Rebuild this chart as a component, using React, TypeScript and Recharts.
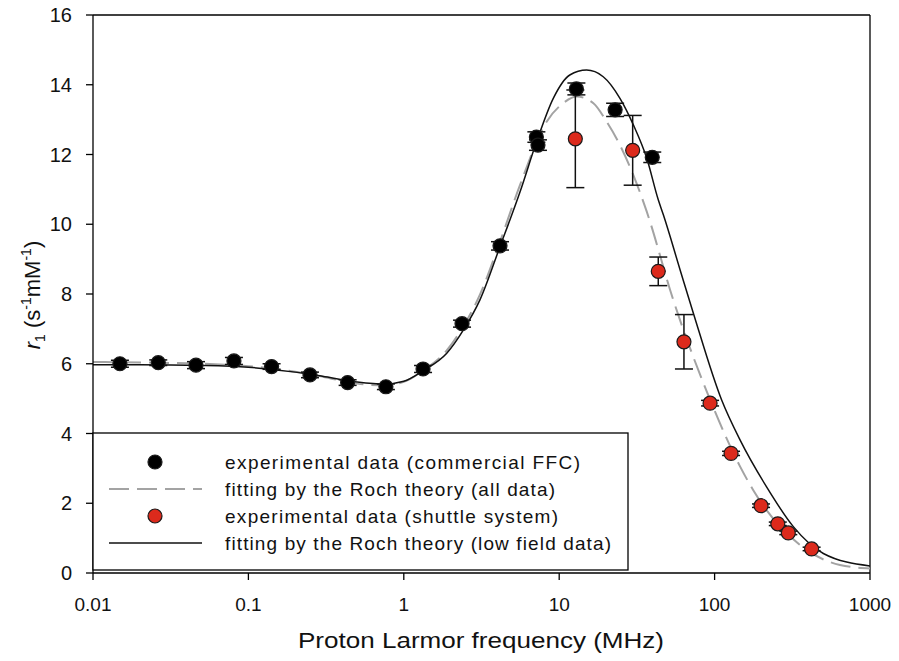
import React from "react";
import {
  ComposedChart,
  Line,
  Scatter,
  XAxis,
  YAxis,
  ErrorBar,
  ReferenceLine,
} from "recharts";

// commercial FFC relaxometer points
const ffcFreq = [0.0149, 0.0263, 0.046, 0.0807, 0.141, 0.249, 0.435, 0.767, 1.33, 2.37, 4.16, 7.13, 7.3, 12.9, 22.9, 39.7];
const ffcR1 = [6.0, 6.03, 5.96, 6.08, 5.92, 5.68, 5.46, 5.34, 5.85, 7.15, 9.38, 12.5, 12.27, 13.88, 13.28, 11.92];
const ffcErr = [0.1, 0.08, 0.1, 0.1, 0.08, 0.08, 0.08, 0.08, 0.1, 0.1, 0.12, 0.15, 0.15, 0.17, 0.19, 0.15];

// shuttle system points
const shuttleFreq = [12.7, 29.7, 43.4, 63.5, 93.5, 127.6, 199, 255, 298, 421];
const shuttleR1 = [12.45, 12.12, 8.65, 6.63, 4.87, 3.43, 1.93, 1.41, 1.15, 0.69];
const shuttleErr = [1.4, 1.0, 0.41, 0.78, 0.08, 0.06, 0.05, 0.05, 0.05, 0.05];

// Roch fit, all data (dashed)
const allFitFreq = [0.01, 0.05, 0.1, 0.2, 0.3, 0.5, 0.75, 1.0, 1.33, 1.89, 2.42, 3.09, 4.16, 5.6, 8.3, 10.6, 13.0, 16.6, 20.2, 24.6, 30, 36.6, 54.2, 91, 146, 177, 355, 641, 1000];
const allFitR1 = [6.05, 6.0, 5.93, 5.77, 5.63, 5.43, 5.38, 5.48, 5.8, 6.38, 7.08, 7.98, 9.5, 11.13, 12.94, 13.47, 13.66, 13.47, 12.94, 12.27, 11.41, 10.36, 7.83, 5.1, 3.05, 2.38, 0.8, 0.23, 0.13];

// Roch fit, low field data (solid)
const lowFitFreq = [0.01, 0.02, 0.05, 0.1, 0.2, 0.3, 0.5, 0.75, 1.0, 1.33, 1.89, 2.42, 3.09, 4.16, 5.6, 7.16, 9.16, 11.7, 15, 19.2, 24.6, 30, 36.6, 43.4, 46.8, 60, 73, 111, 146, 216, 321, 501, 1000];
const lowFitR1 = [5.97, 5.97, 5.95, 5.9, 5.76, 5.64, 5.48, 5.42, 5.5, 5.8, 6.3, 6.97, 7.83, 9.36, 10.93, 12.37, 13.61, 14.28, 14.42, 14.23, 13.61, 12.85, 11.89, 10.7, 10.27, 8.69, 7.45, 4.96, 3.81, 2.47, 1.33, 0.56, 0.2];

const xTicks = [0.01, 0.1, 1, 10, 100, 1000];
const yTicks = [0, 2, 4, 6, 8, 10, 12, 14, 16];

const legendItems = [
  "experimental data (commercial FFC)",
  "fitting by the Roch theory (all data)",
  "experimental data (shuttle system)",
  "fitting by the Roch theory (low field data)",
];

const ffc = ffcFreq.map((x, i) => ({ x, y: ffcR1[i], err: ffcErr[i] }));
const shuttle = shuttleFreq.map((x, i) => ({ x, y: shuttleR1[i], err: shuttleErr[i] }));
const allFit = allFitFreq.map((x, i) => ({ x, y: allFitR1[i] }));
const lowFit = lowFitFreq.map((x, i) => ({ x, y: lowFitR1[i] }));

const FONT = '"Liberation Sans", Arial, sans-serif';
const RED = "#dc2a1c";
const GREY = "#a3a3a3";
const DASH = "20 8";

const dot = (fill: string) => (p: any) =>
  <circle cx={p.cx} cy={p.cy} r={7} fill={fill} stroke="#1a1a1a" strokeWidth={1.2} />;

const legendWidths = [355, 330, 333, 386];

export default function App() {
  return (
    <div style={{ position: "absolute", left: 0, top: 0, width: 899, height: 661, background: "#fff", fontFamily: FONT }}>
      <ComposedChart width={899} height={661} margin={{ top: 15, right: 29, left: 0, bottom: 0 }}>
        <XAxis
          dataKey="x"
          type="number"
          scale="log"
          domain={[0.01, 1000]}
          allowDataOverflow
          ticks={xTicks}
          tickFormatter={(v) => String(v)}
          height={88}
          tickSize={7}
          tickMargin={18}
          stroke="#000"
          strokeWidth={1.3}
          tick={{ fill: "#111", fontSize: 19, fontFamily: FONT }}
          label={{
            content: () => (
              <text x={481} y={648} textAnchor="middle" fontSize={22} fill="#111" fontFamily={FONT} textLength={366} lengthAdjust="spacingAndGlyphs">
                Proton Larmor frequency (MHz)
              </text>
            ),
          }}
        />
        <YAxis
          dataKey="y"
          type="number"
          domain={[0, 16]}
          ticks={yTicks}
          width={93}
          tickSize={7}
          tickMargin={14}
          stroke="#000"
          strokeWidth={1.3}
          tick={{ fill: "#111", fontSize: 20, fontFamily: FONT }}
          label={{
            content: () => (
              <text transform="translate(40,295) rotate(-90)" textAnchor="middle" fontSize={22} fill="#111" fontFamily={FONT}>
                <tspan fontStyle="italic">r</tspan>
                <tspan fontSize={14} dy={5}>1</tspan>
                <tspan dy={-5}> (s</tspan>
                <tspan fontSize={14} dy={-9}>-1</tspan>
                <tspan dy={9}>mM</tspan>
                <tspan fontSize={14} dy={-9}>-1</tspan>
                <tspan dy={9}>)</tspan>
              </text>
            ),
          }}
        />
        <ReferenceLine y={16} stroke="#000" strokeWidth={1.3} />
        <ReferenceLine x={1000} stroke="#000" strokeWidth={1.3} />
        <Line data={allFit} dataKey="y" type="monotone" stroke={GREY} strokeWidth={2} strokeDasharray={DASH} dot={false} isAnimationActive={false} />
        <Line data={lowFit} dataKey="y" type="monotone" stroke="#111" strokeWidth={1.5} dot={false} isAnimationActive={false} />
        <Scatter data={ffc} dataKey="y" shape={dot("#000")} isAnimationActive={false}>
          <ErrorBar dataKey="err" direction="y" width={9} stroke="#111" strokeWidth={1.5} />
        </Scatter>
        <Scatter data={shuttle} dataKey="y" shape={dot(RED)} isAnimationActive={false}>
          <ErrorBar dataKey="err" direction="y" width={9} stroke="#111" strokeWidth={1.5} />
        </Scatter>
      </ComposedChart>
      <svg width={899} height={661} style={{ position: "absolute", left: 0, top: 0, pointerEvents: "none" }}>
        <rect x={93} y={433} width={535} height={137} fill="#fff" stroke="#000" strokeWidth={1.3} />
        <circle cx={155} cy={462} r={7} fill="#000" stroke="#1a1a1a" strokeWidth={1.2} />
        <line x1={109} x2={202} y1={489} y2={489} stroke={GREY} strokeWidth={2} strokeDasharray={DASH} />
        <circle cx={155} cy={516} r={7} fill={RED} stroke="#1a1a1a" strokeWidth={1.2} />
        <line x1={109} x2={202} y1={543} y2={543} stroke="#111" strokeWidth={1.5} />
        {legendItems.map((t, i) => (
          <text key={t} x={225} y={469 + i * 27} fontSize={19} fill="#111" fontFamily={FONT} textLength={legendWidths[i]} lengthAdjust="spacing">
            {t}
          </text>
        ))}
      </svg>
    </div>
  );
}
